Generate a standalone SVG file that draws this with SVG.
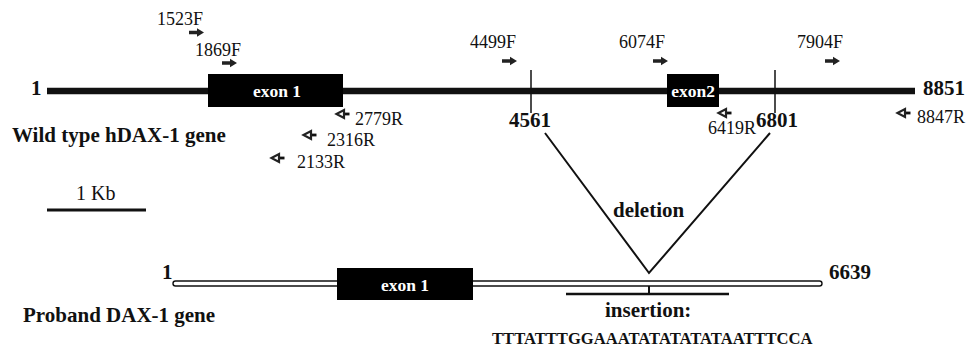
<svg xmlns="http://www.w3.org/2000/svg" width="967" height="347" viewBox="0 0 967 347">
<style>
text{font-family:"Liberation Serif","Times New Roman",serif;fill:#111}
.lab{font-size:18px}
.b{font-weight:bold}
.big{font-size:21px;font-weight:bold}
.ex{font-size:17.5px;font-weight:bold;fill:#fff;text-anchor:middle}
.fw{fill:#222}
.rv{fill:#fff;stroke:#222;stroke-width:2.2;stroke-linejoin:miter}
.ln{stroke:#111;fill:none}
</style>
<defs>
<path id="fa" d="M0,-1.8 L8,-1.8 L8,-4.2 L15,0 L8,4.2 L8,1.8 L0,1.8 Z"/>
<g id="ra"><path class="ln" d="M8,0 L14.5,0" stroke-width="2.8"/><path class="rv" d="M1.5,0 L9,-4 L9,4 Z"/></g>
</defs>

<g id="wildtype-gene">
<line class="ln" x1="47" y1="91" x2="915" y2="91" stroke-width="6.5"/>
<text class="big" x="31" y="95">1</text>
<text class="big" x="923" y="95">8851</text>
<text class="big" x="12" y="142">Wild type hDAX-1 gene</text>
</g>
<g id="wt-exon1">
<rect x="208" y="74" width="135" height="33" fill="#000"/>
<text class="ex" x="277" y="97">exon 1</text>
</g>
<g id="wt-exon2">
<rect x="667" y="74" width="52" height="33" fill="#000"/>
<text class="ex" x="693" y="97">exon2</text>
</g>
<g id="bp4561">
<line class="ln" x1="531" y1="70" x2="531" y2="113" stroke-width="1.5"/>
<text class="big" x="509" y="127">4561</text>
</g>
<g id="bp6801">
<line class="ln" x1="775" y1="70" x2="775" y2="113" stroke-width="1.5"/>
<text class="big" x="756" y="127">6801</text>
</g>

<g id="primer-1523F"><text class="lab" x="157" y="25">1523F</text><use href="#fa" class="fw" x="189" y="32.5"/></g>
<g id="primer-1869F"><text class="lab" x="195" y="56">1869F</text><use href="#fa" class="fw" x="222" y="63"/></g>
<g id="primer-4499F"><text class="lab" x="470" y="48">4499F</text><use href="#fa" class="fw" x="502" y="61"/></g>
<g id="primer-6074F"><text class="lab" x="619" y="48">6074F</text><use href="#fa" class="fw" x="653" y="61"/></g>
<g id="primer-7904F"><text class="lab" x="797" y="48">7904F</text><use href="#fa" class="fw" x="825" y="61"/></g>
<g id="primer-2779R"><use href="#ra" x="335" y="114"/><text class="lab" x="355" y="125">2779R</text></g>
<g id="primer-2316R"><use href="#ra" x="302" y="135"/><text class="lab" x="327" y="146">2316R</text></g>
<g id="primer-2133R"><use href="#ra" x="270" y="158"/><text class="lab" x="297" y="168">2133R</text></g>
<g id="primer-6419R"><use href="#ra" x="717" y="113"/><text class="lab" x="708" y="134">6419R</text></g>
<g id="primer-8847R"><use href="#ra" x="896" y="113"/><text class="lab" x="917" y="123">8847R</text></g>

<g id="scale-bar">
<text x="76" y="200" style="font-size:20px">1 Kb</text>
<line class="ln" x1="47" y1="210" x2="146" y2="210" stroke-width="3"/>
</g>

<g id="connectors">
<polyline class="ln" points="545,133 649,273 770,133" stroke-width="2"/>
<line class="ln" x1="649" y1="286" x2="649" y2="294" stroke-width="2"/>
</g>
<g id="deletion-label"><text class="big" x="613" y="217">deletion</text></g>

<g id="proband-gene">
<rect x="173" y="281" width="649" height="5" rx="2.5" fill="#fff" stroke="#111" stroke-width="1.4"/>
<text class="big" x="162" y="279">1</text>
<text class="big" x="829" y="279">6639</text>
<text class="big" x="23" y="322">Proband DAX-1 gene</text>
</g>
<g id="pb-exon1">
<rect x="337" y="268" width="136" height="32" fill="#000"/>
<text class="ex" x="405" y="291">exon 1</text>
</g>
<g id="insertion">
<line class="ln" x1="566" y1="294" x2="729" y2="294" stroke-width="2.5"/>
<text class="big" x="605" y="317">insertion:</text>
<text class="b" x="492" y="344" style="font-size:16.6px">TTTATTTGGAAATATATATATAATTTCCA</text>
</g>
</svg>
